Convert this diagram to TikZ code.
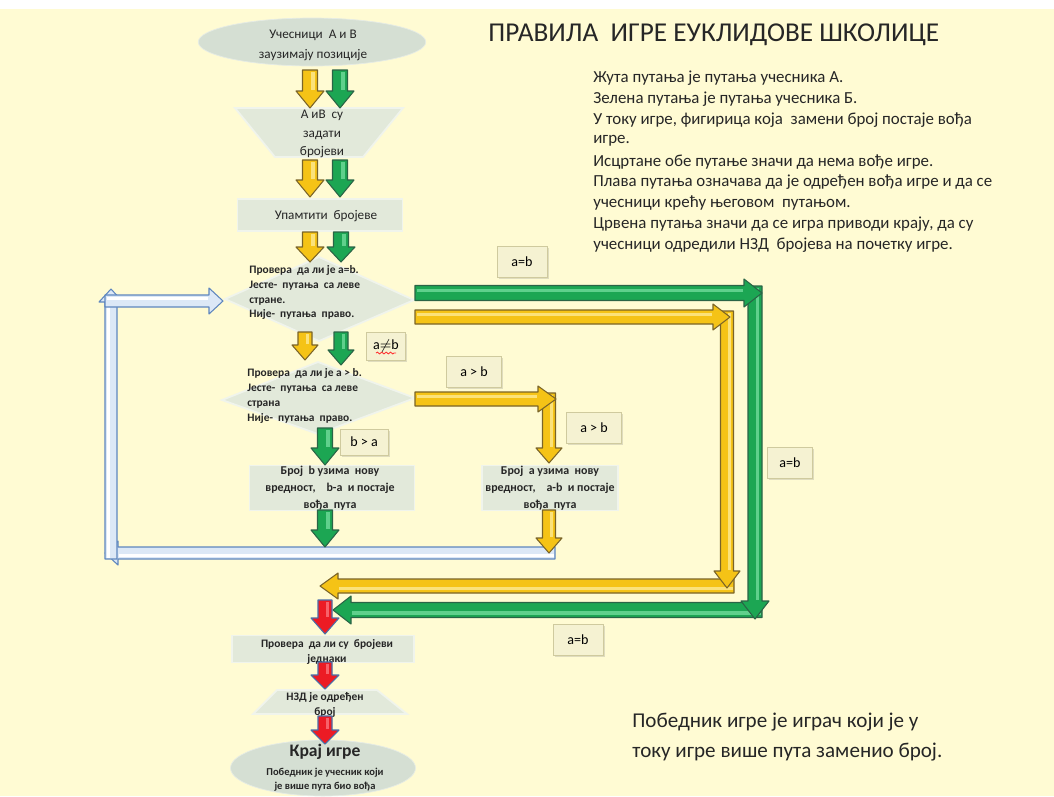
\documentclass[tikz,border=0pt]{standalone}
\usepackage{fontspec}
\setmainfont{Carlito}
\usetikzlibrary{shapes.geometric,decorations.pathmorphing,shadows}
\definecolor{bg}{HTML}{FFFBD3}
\definecolor{yel}{HTML}{F5C316}
\definecolor{yelD}{HTML}{7A6428}
\definecolor{yelL}{HTML}{FBE27A}
\definecolor{grn}{HTML}{1CA653}
\definecolor{grnD}{HTML}{2A6446}
\definecolor{grnL}{HTML}{5FD08C}
\definecolor{rd}{HTML}{EC1B24}
\definecolor{rdD}{HTML}{4A6FA8}
\definecolor{rdL}{HTML}{F7626A}
\definecolor{blu}{HTML}{DCE8F6}
\definecolor{bluD}{HTML}{5E86BE}
\definecolor{bluL}{HTML}{FFFFFF}
\definecolor{box}{HTML}{E2E9DA}
\definecolor{ell}{HTML}{D5DFD3}
\definecolor{lab}{HTML}{F5F2D2}
\definecolor{labD}{HTML}{CFCA9E}
\definecolor{txt}{HTML}{262626}
\newcommand\fs[2]{\fontsize{#1}{#2}\selectfont}
% block arrow: style, x, y, angle, length, half shaft, half head, head length, highlight
\newcommand\barrow[9]{%
  \begin{scope}[shift={(#2,#3)},rotate=#4]
    \filldraw[#1] (0,-#6) -- ({#5-#8},-#6) -- ({#5-#8},-#7) -- (#5,0) -- ({#5-#8},#7) -- ({#5-#8},#6) -- (0,#6) -- cycle;
    \fill[#9] (1.5,{-0.6*#6}) rectangle ({#5-#8-1},{-0.1*#6});
  \end{scope}}
\tikzset{
  yA/.style={fill=yel,draw=yelD,line width=0.6pt,line join=round},
  gA/.style={fill=grn,draw=grnD,line width=0.6pt,line join=round},
  rA/.style={fill=rd,draw=rdD,line width=0.6pt,line join=round},
  bA/.style={fill=blu,draw=bluD,line width=0.6pt,line join=round},
  shp/.style={fill=box,draw=white!50!box,line width=1pt},
  lbl/.style={draw=labD,line width=0.4pt,fill=lab,inner sep=0pt,
    font=\fs{8}{9},drop shadow={opacity=0.25,shadow xshift=0.9pt,shadow yshift=-0.9pt}},
  ftxt/.style={text=txt,align=center,inner sep=0pt},
  dtxt/.style={text=txt,align=left,inner sep=0pt,font=\bfseries\fs{6.5}{8.5}},
}
\begin{document}
\begin{tikzpicture}[x=0.02cm,y=-0.02cm]
\useasboundingbox (0,0) rectangle (1054,796);
\fill[bg] (0,9) rectangle (1054,796);
\fill[white] (0,0) rectangle (1054,9);

% ---------- shapes ----------
\node[ellipse,fill=ell,draw=white!40!ell,minimum width=4.55cm,minimum height=0.96cm,inner sep=0] (start) at (312,42) {};
\node[ftxt,font=\fs{7.5}{11.3}] (starttxt) at (313,45) {Учесници\ \ А и В\\заузимају позиције};

\filldraw[shp] (235,108) -- (403,108) -- (363,157) -- (275,157) -- cycle;
\node[ftxt,font=\fs{7.5}{10.5}] (given) at (322,134) {А иВ\ \ су\\задати\\бројеви};

\node[shp,minimum width=3.3cm,minimum height=0.64cm] (rem) at (320,215) {};
\node[ftxt,font=\fs{7.5}{9}] (remtxt) at (326,216) {Упамтити\ \ бројеве};

\filldraw[shp] (225,299) -- (319,257) -- (414,300) -- (319,341) -- cycle;
\node[dtxt,anchor=west] (d1) at (249,292.5) {Провера\ \ да ли је a=b.\\Јесте-\ \ путања\ \ са леве\\стране.\\Није-\ \ путања\ \ право.};

\filldraw[shp] (222,400) -- (318,362) -- (415,398) -- (318,434) -- cycle;
\node[dtxt,anchor=west] (d2) at (247,396) {Провера\ \ да ли је a > b.\\Јесте-\ \ путања\ \ са леве\\страна\\Није-\ \ путања\ \ право.};

\node[shp,minimum width=3.3cm,minimum height=0.9cm] (rb) at (332,488) {};
\node[ftxt,font=\bfseries\fs{6.8}{9.6}] (rbtxt) at (330,488) {Број\ \ b узима\ \ нову\\вредност,\ \ \ \ b-a\ \ и постаје\\вођа\ \ пута};

\node[shp,minimum width=2.72cm,minimum height=0.9cm] (ra) at (550,488) {};
\node[ftxt,font=\bfseries\fs{6.8}{9.6}] (ratxt) at (550,488) {Број\ \ a узима\ \ нову\\вредност,\ \ \ \ a-b\ \ и постаје\\вођа\ \ пута};

% ---------- blue loop ----------
\barrow{bA}{555}{553}{180}{450}{6}{12}{13}{bluL}
\barrow{bA}{111}{559}{90}{270}{6}{12}{13}{bluL}
\barrow{bA}{105}{301}{0}{118}{6}{13}{14}{bluL}

% ---------- small arrows ----------
\barrow{yA}{310}{70}{-90}{38}{7.5}{14}{17}{yelL}
\barrow{gA}{340}{70}{-90}{38}{7.5}{14}{17}{grnL}
\barrow{yA}{310}{160}{-90}{37}{7.5}{14}{17}{yelL}
\barrow{gA}{340}{160}{-90}{37}{7.5}{14}{17}{grnL}
\barrow{yA}{310}{232}{-90}{30}{7.5}{14}{15}{yelL}
\barrow{gA}{341}{232}{-90}{30}{7.5}{14}{15}{grnL}
\barrow{yA}{305}{332}{-90}{28}{7}{13}{15}{yelL}
\barrow{gA}{341}{332}{-90}{33}{7}{13}{15}{grnL}
\barrow{gA}{325}{428}{-90}{37}{7.5}{14}{17}{grnL}
\barrow{gA}{325}{510}{-90}{37}{7.5}{14}{17}{grnL}

% a > b route
\barrow{yA}{549}{393}{-90}{70}{6.5}{13}{15}{yelL}
\barrow{yA}{415}{399}{0}{141}{7}{13}{18}{yelL}
\barrow{yA}{549}{510}{-90}{43}{6.5}{13}{15}{yelL}

% ---------- a = b routes ----------
\barrow{gA}{762}{610}{180}{429}{7.5}{14}{18}{grnL}
\barrow{gA}{755}{286}{-90}{333}{7}{14}{18}{grnL}
\barrow{gA}{415}{293}{0}{347}{7.5}{14}{18}{grnL}
\barrow{yA}{734}{586}{180}{414}{7}{13}{18}{yelL}
\barrow{yA}{727}{311}{-90}{277}{6.5}{13}{17}{yelL}
\barrow{yA}{415}{317}{0}{315}{7}{13}{17}{yelL}

% ---------- end part ----------
\node[shp,minimum width=3.64cm,minimum height=0.54cm] (eq) at (323,649) {};
\node[ftxt,font=\bfseries\fs{6.5}{8.5}] (eqtxt) at (327,652) {Провера\ \ да ли су\ \ бројеви\\једнаки};

\filldraw[shp] (277,690) -- (377,690) -- (407,714) -- (253,714) -- cycle;
\node[ftxt,font=\bfseries\fs{6.5}{8.5}] (gcd) at (325,705) {НЗД је одређен\\број};

\node[ellipse,fill=ell,draw=white!40!ell,minimum width=3.7cm,minimum height=1.12cm,inner sep=0] (end) at (323,768) {};
\node[ftxt,font=\bfseries\fs{10}{12}] (endt) at (325,752) {Крај игре};
\node[ftxt,font=\bfseries\fs{6}{8}] (endt2) at (325,780) {Победник је учесник који\\је више пута био вођа};

\barrow{rA}{325}{600}{-90}{34}{7}{14}{16}{rdL}
\barrow{rA}{325}{662}{-90}{27}{7}{14}{14}{rdL}
\barrow{rA}{325}{716}{-90}{28}{7}{14}{14}{rdL}

% ---------- labels ----------
\node[lbl,minimum width=1.0cm,minimum height=0.62cm] (l1) at (522,262) {a=b};
\node[lbl,minimum width=0.78cm,minimum height=0.56cm] (l2) at (386,346) {a$\neq$b};
\draw[red!80,line width=0.5pt,decorate,decoration={snake,amplitude=0.5pt,segment length=2.5pt}] (376,353) -- (396,353);
\node[lbl,minimum width=1.1cm,minimum height=0.62cm] (l3) at (474,372) {a > b};
\node[lbl,minimum width=1.1cm,minimum height=0.62cm] (l4) at (594,428) {a > b};
\node[lbl,minimum width=0.96cm,minimum height=0.52cm] (l5) at (364,442) {b > a};
\node[lbl,minimum width=0.9cm,minimum height=0.62cm] (l6) at (790,463) {a=b};
\node[lbl,minimum width=1.0cm,minimum height=0.62cm] (l7) at (578,640) {a=b};

% ---------- texts ----------
\node[text=txt,anchor=west,inner sep=0,font=\fs{15.5}{18}] (title) at (488,35) {ПРАВИЛА\ \ ИГРЕ ЕУКЛИДОВЕ ШКОЛИЦЕ};
\foreach \t [count=\i from 0] in {
  {Жута путања је путања учесника А.},
  {Зелена путања је путања учесника Б.},
  {У току игре, фигирица која\ \ замени број постаје вођа},
  {игре.},
  {Исцртане обе путање значи да нема вође игре.},
  {Плава путања означава да је одређен вођа игре и да се},
  {учесници крећу његовом\ \ путањом.},
  {Црвена путања значи да се игра приводи крају, да су},
  {учесници одредили НЗД\ \ бројева на почетку игре.}}
  \node[text=txt,anchor=west,inner sep=0,font=\fs{9.6}{11}] (rule\i) at (593,{78+20.9*\i}) {\t};
\node[text=txt,anchor=west,inner sep=0,font=\fs{12}{14}] (win1) at (632,722) {Победник игре је играч који је у};
\node[text=txt,anchor=west,inner sep=0,font=\fs{12}{14}] (win2) at (632,752) {току игре више пута заменио број.};
\end{tikzpicture}
\end{document}
